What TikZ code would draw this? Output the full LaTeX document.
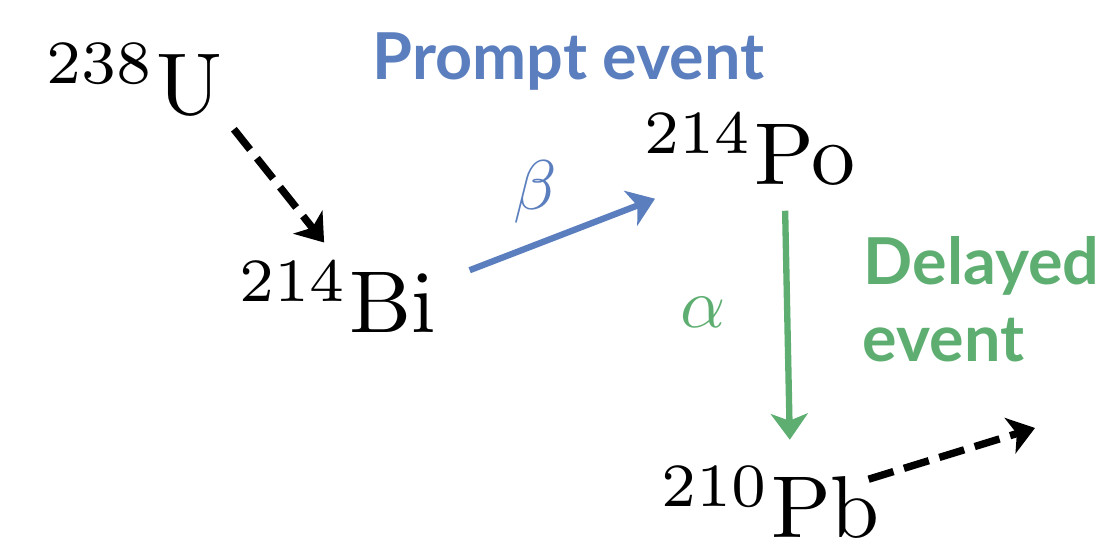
\documentclass[tikz,border=0pt]{standalone}
\usepackage[no-math]{fontspec}
\usepackage{xcolor}
\usepackage{tikz}
\usetikzlibrary{arrows.meta,calc,positioning}
\newfontfamily\rotfont{Lato}[BoldFont={Lato Bold}]
\definecolor{azul}{RGB}{91,126,190}
\definecolor{verde}{RGB}{94,174,114}
\tikzset{
  nuclido/.style={inner sep=0pt,anchor=base west,scale=2.5,transform shape},
  flecha/.style={line width=1.8pt,-{Stealth[length=0.26cm,width=0.37cm,inset=0.07cm]}},
  discont/.style={flecha,black,line width=2.1pt,dash pattern=on 0.26cm off 0.11cm},
  rotulo/.style={inner sep=0pt,anchor=base west,font=\rotfont\bfseries\fontsize{18.4}{21}\selectfont},
  letra/.style={inner sep=0pt,scale=2.0,transform shape}
}

\begin{document}
\begin{tikzpicture}
\useasboundingbox (0,0) rectangle (10.97,5.49);
% nuclidos de la cadena
\node[nuclido] (U) at (0.45,4.34) {$^{238}\mathrm{U}$};
\node[nuclido] (Bi) at (2.38,2.16) {$^{214}\mathrm{Bi}$};
\node[nuclido] (Po) at (6.43,3.64) {$^{214}\mathrm{Po}$};
\node[nuclido] (Pb) at (6.60,0.11) {$^{210}\mathrm{Pb}$};
\coordinate (sigue) at (10.35,1.21);
% desintegraciones
\draw[discont,shorten <=0.16cm,shorten >=0.22cm] (U.south east) -- (Bi.north);
\draw[flecha,azul] ($(Bi.east)+(0.32,0.27)$) -- ($(Po.south west)+(0.12,-0.12)$);
\draw[flecha,verde] ($(Po.south)+(0.35,-0.24)$) -- ($(Pb.north)+(0.19,0.25)$);
\draw[discont] ($(Pb.east)+(-0.13,0.23)$) -- (sigue);
% etiquetas
\node[letra,text=azul] (beta) at (5.35,3.57) {$\beta$};
\node[letra,text=verde] (alfa) at (7.03,2.37) {$\alpha$};
\node[rotulo,text=azul] (pronto) at (3.72,4.69) {Prompt event};
\node[rotulo,text=verde] (retar1) at (8.63,2.64) {Delayed};
\node[rotulo,text=verde] (retar2) at (8.62,1.87) {event};
\end{tikzpicture}
\end{document}
